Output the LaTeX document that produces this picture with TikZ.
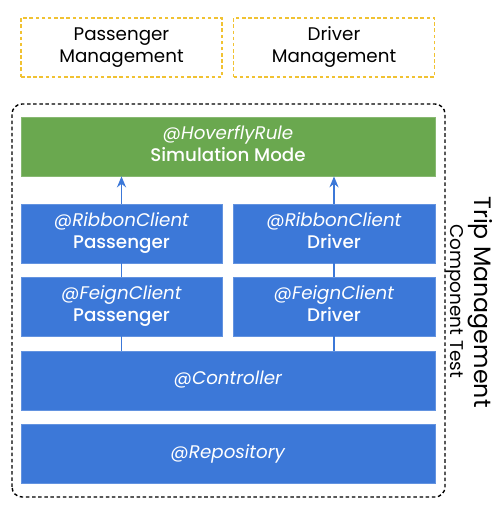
\documentclass[tikz,border=0pt]{standalone}
\usepackage{fontspec}
\setmainfont{Poppins}
\newfontfamily\layerfont{Poppins}[UprightFont=* Medium, ItalicFont=* Italic]
\usepackage{xcolor}
\definecolor{xblue}{HTML}{3C78D8}
\definecolor{xgreen}{HTML}{6AA84F}
\definecolor{xyellow}{HTML}{F1C232}
\usetikzlibrary{positioning, calc, arrows.meta}
\tikzset{
	arrow/.style={line width=1pt, draw=xblue, -{Stealth[length=2.2mm, width=1.8mm]}},
	link/.style={line width=1pt, draw=xblue},
	service/.style={draw=xyellow, thick, dash pattern=on 2pt off 1.5pt, minimum width=4.02cm, minimum height=1.18cm, align=center, font=\fontsize{10.4}{12.5}\selectfont},
	layer/.style={fill=xblue, draw=xblue!80!white, text=white, minimum height=1.18cm, align=center, font=\layerfont\fontsize{10.4}{12.5}\selectfont, execute at end node={\strut}},
	half/.style={layer, minimum width=4.02cm},
	full/.style={layer, minimum width=8.28cm},
}
\begin{document}
\begin{tikzpicture}
		\useasboundingbox (0,0) rectangle (10,10.26);
		% Services outside the test
		\node[service] (PM) at (2.43,9.31) {Passenger\\Management};
		\node[service] (DM) at (6.68,9.31) {Driver\\Management};

		% Component test boundary
		\draw[thick, dash pattern=on 2pt off 1.5pt, rounded corners=0.2cm] (0.24,0.32) rectangle (8.90,8.18);

		% Layers
		\node[full, fill=xgreen, draw=xgreen!80!white] (HR) at (4.56,7.33) {\textit{@HoverflyRule}\\Simulation Mode};
		\node[half] (RP) at (2.43,5.59) {\textit{@RibbonClient}\\Passenger};
		\node[half, minimum width=4.04cm] (RD) at (6.68,5.59) {\textit{@RibbonClient}\\Driver};
		\node[half] (FP) at (2.43,4.13) {\textit{@FeignClient}\\Passenger};
		\node[half, minimum width=4.04cm] (FD) at (6.68,4.13) {\textit{@FeignClient}\\Driver};
		\node[full] (C) at (4.56,2.65) {\textit{@Controller}};
		\node[full] (R) at (4.56,1.18) {\textit{@Repository}};

		\draw[arrow] (RP.north) -- (RP.north |- HR.south);
		\draw[arrow] (RD.north) -- (RD.north |- HR.south);
		\draw[link] (FP.north) -- (RP.south);
		\draw[link] (FD.north) -- (RD.south);
		\draw[link] (FP.south |- C.north) -- (FP.south);
		\draw[link] (FD.south |- C.north) -- (FD.south);

		% Labels
		\node[rotate=-90, font=\fontsize{13.5}{15}\selectfont] (TM) at (9.60,4.22) {Trip Management};
		\node[rotate=-90, font=\fontsize{10.5}{12}\selectfont] (CT) at (9.10,4.24) {Component Test};
	\end{tikzpicture}
\end{document}
